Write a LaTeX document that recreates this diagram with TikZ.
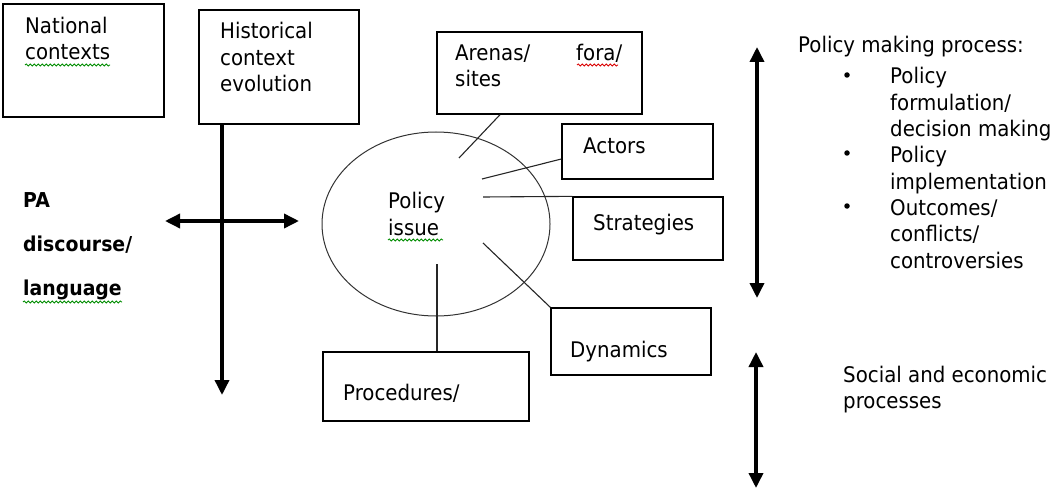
\documentclass[tikz,border=0pt]{standalone}
\usepackage{fontspec}
\setmainfont{DejaVu Sans}[FakeStretch=0.92]
\usetikzlibrary{arrows.meta,shapes.geometric,decorations.pathmorphing}
\begin{document}
\begin{tikzpicture}[x=1pt,y=-1pt,
  box/.style={shape=rectangle,draw=black,line width=1.3pt,inner sep=0pt},
  txt/.style={anchor=base west,align=left,inner sep=0pt,font=\fontsize{21.5}{26.5}\selectfont},
  link/.style={draw=black!85,line width=1.1pt},
  bigarrow/.style={line width=3.5pt,{Triangle[length=15pt,width=14pt]}-{Triangle[length=15pt,width=14pt]}},
  typo/.style={decorate,decoration={snake,amplitude=1.1pt,segment length=4pt},line width=0.8pt}]
\useasboundingbox (0,0) rectangle (1054,489);

% boxes
\node[box,minimum width=161,minimum height=113] (national) at (83.5,60.5) {};
\node[box,minimum width=160,minimum height=114] (hist) at (279,67) {};
\node[box,minimum width=205,minimum height=82] (arenas) at (539.5,73) {};
\node[box,minimum width=151,minimum height=55] (actors) at (637.5,151.5) {};
\node[box,minimum width=150,minimum height=63] (strategies) at (648,228.5) {};
\node[box,minimum width=160,minimum height=67] (dynamics) at (631,341.5) {};
\node[box,minimum width=206,minimum height=69] (procedures) at (426,386.5) {};
\node[shape=ellipse,draw=black!80,line width=1pt,minimum width=228,minimum height=184] (issue) at (436,224) {};

% box texts (placed at the baseline of their last line)
\node[txt] (nationaltxt) at (25,60) {National\\contexts};
\node[txt] (histtxt) at (220,92) {Historical\\context\\evolution};
\node[txt] (arenastxt) at (455,87) {Arenas/\hspace{46pt}fora/\\sites};
\node[txt] (actorstxt) at (583,154) {Actors};
\node[txt] (strattxt) at (593,230) {Strategies};
\node[txt] (dyntxt) at (570,357) {Dynamics};
\node[txt] (proctxt) at (343,400) {Procedures/};
\node[txt] (issuetxt) at (388,235) {Policy\\issue};
\node[txt,font=\fontsize{20.5}{44}\selectfont\bfseries] (patxt) at (23,295) {PA\\discourse/\\language};

% spelling marks
\draw[typo,green!55!black] (25,65) -- (110,65);
\draw[typo,red!85!black] (577,65) -- (618,65);
\draw[typo,green!55!black] (388,240) -- (443,240);
\draw[typo,green!55!black] (23,302) -- (122,302);

% links from the issue
\coordinate (a1) at (459,158);
\coordinate (a2) at (482,179);
\coordinate (a3) at (483,197);
\coordinate (a4) at (483,243);
\coordinate (a5) at (437,264);
\path[link] (a1) edge (arenas);
\draw[link] (a2) -- ([yshift=-7.5pt]actors.west);
\draw[link] (a3) -- (strategies.north west);
\draw[link] (a4) -- (dynamics.north west);
\draw[link] (a5) -- (a5 |- procedures.north);

% thick arrows
\coordinate (histend) at (222,395);
\coordinate (discL) at (165,221);
\coordinate (discR) at (299,221);
\coordinate (pmTop) at (757,47);
\coordinate (pmBot) at (757,298);
\coordinate (seTop) at (756,352);
\coordinate (seBot) at (756,488);
\draw[line width=3.5pt,-{Triangle[length=15pt,width=14pt]}] (histend |- hist.south) -- (histend);
\draw[bigarrow] (discL) -- (discR);
\draw[bigarrow] (pmTop) -- (pmBot);
\draw[bigarrow] (seTop) -- (seBot);

% right hand side
\node[txt] (pmtxt) at (798,53) {Policy making process:};
\node[txt,font=\fontsize{21.5}{26.3}\selectfont] (pmlist) at (890,268)
  {Policy\\formulation/\\decision making\\Policy\\implementation\\Outcomes/\\conflicts/\\controversies};
\node[shape=circle,fill=black,inner sep=0pt,minimum size=5.5pt] (b1) at (847,75) {};
\node[shape=circle,fill=black,inner sep=0pt,minimum size=5.5pt] (b2) at (847,153) {};
\node[shape=circle,fill=black,inner sep=0pt,minimum size=5.5pt] (b3) at (847,206) {};
\node[txt,font=\fontsize{21.5}{26}\selectfont] (setxt) at (843,408) {Social and economic\\processes};
\end{tikzpicture}
\end{document}
